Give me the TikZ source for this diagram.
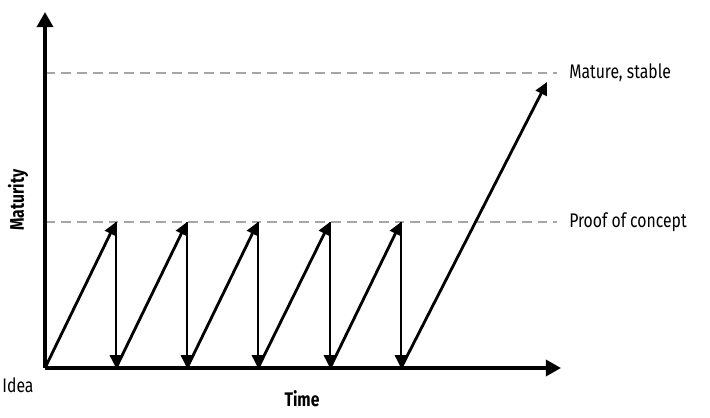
\documentclass[tikz,border=0pt]{standalone}
\usepackage{fontspec}
\setmainfont{Fira Sans}[FakeStretch=0.8]
\usetikzlibrary{arrows.meta, positioning}

\begin{document}
\begin{tikzpicture}[
    x=0.025cm, y=-0.025cm,
    axis/.style={draw, line width=2.6pt, -{Triangle[length=0.38cm, width=0.4cm]}},
    line/.style={draw, line width=2pt, -{Triangle[length=0.32cm, width=0.3cm]}},
    level/.style={draw, black!35, line width=1.6pt, dash pattern=on 7pt off 4.3pt},
    lbl/.style={font=\fontsize{14}{16}\selectfont, inner sep=0pt},
    ttl/.style={font=\bfseries\fontsize{14}{16}\selectfont, inner sep=0pt}
]
\useasboundingbox (0,0) rectangle (710,418);

\coordinate (b0) at (45,368);
\coordinate (ytop) at (45,12);
\coordinate (xend) at (561,368);
\coordinate (poc0) at (45,222);
\coordinate (mat0) at (45,73);
\coordinate (top) at (547,82);

\node [lbl, anchor=west] (poc) at (569,222) {Proof of concept};
\node [lbl, anchor=west] (mat) at (569,73) {Mature, stable};
\node [lbl] (idea) at (18,385) {Idea};
\node [ttl] (time) at (302,399) {Time};
\node [ttl, rotate=90] (maturity) at (18,200) {Maturity};

\draw [level] (poc0) -- ([xshift=-0.3cm]poc.west);
\draw [level] (mat0) -- ([xshift=-0.3cm]mat.west);

\path [axis] (b0) -- (ytop);
\path [axis] (b0) -- (xend);

% prototypes built and thrown away
\foreach \i/\xx in {1/116, 2/187, 3/258, 4/330, 5/401} {
    \coordinate (p\i) at (\xx,222);
    \coordinate (b\i) at (\xx,368);
}
\foreach \i [evaluate=\i as \k using int(\i-1)] in {1,...,5} {
    \path [line] (b\k) -- (p\i);
    \path [line] (p\i) -- (b\i);
}
\path [line] (b5) -- (top);
\end{tikzpicture}
\end{document}
